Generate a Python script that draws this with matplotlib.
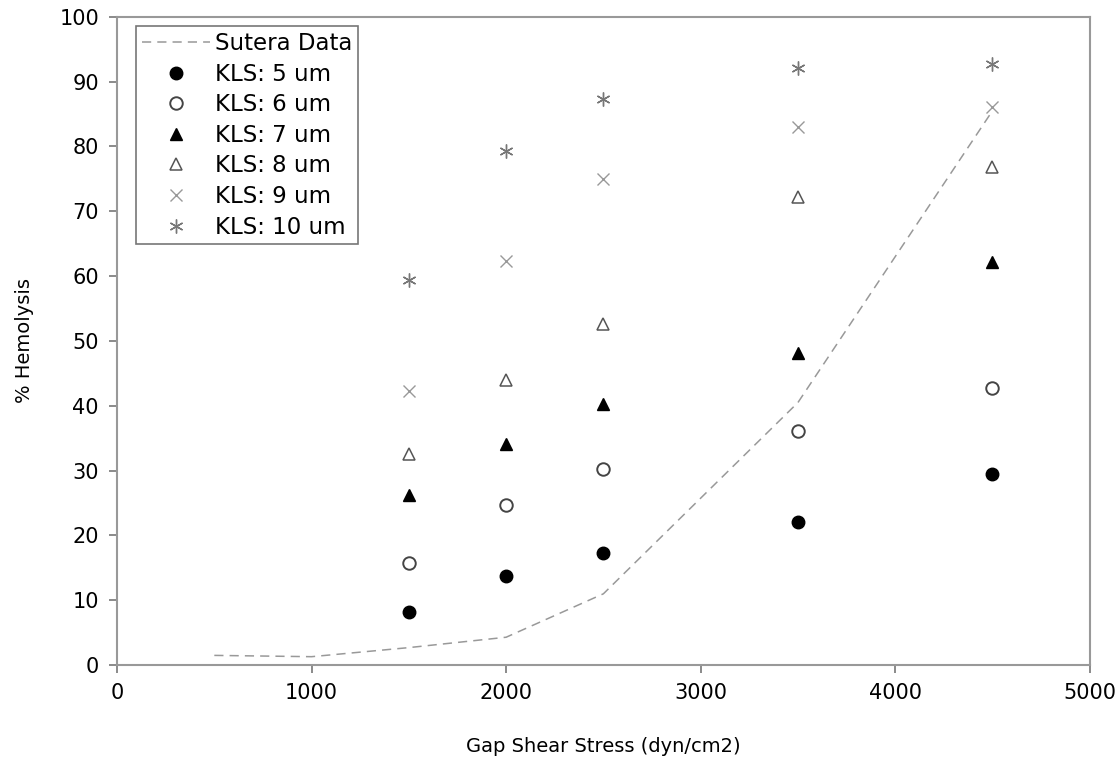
import numpy as np
import matplotlib.pyplot as plt

# Sutera reference curve
sutera_x = [500, 1000, 1500, 2000, 2500, 3500, 4500]
sutera_y = [1.5, 1.3, 2.7, 4.3, 11.0, 40.5, 85.5]

# KLS model results
stress = [1500, 2000, 2500, 3500, 4500]
kls_5 = [8.2, 13.7, 17.3, 22.1, 29.5]
kls_6 = [15.7, 24.7, 30.2, 36.1, 42.7]
kls_7 = [26.2, 34.1, 40.3, 48.1, 62.2]
kls_8 = [32.6, 44.0, 52.6, 72.2, 76.9]
kls_9 = [42.3, 62.3, 75.0, 83.0, 86.1]
kls_10 = [59.4, 79.3, 87.3, 92.1, 92.7]

plt.rcParams['font.family'] = ['DejaVu Sans']

fig = plt.figure(figsize=(11.2, 7.61), dpi=100)
ax = fig.add_axes([0.1045, 0.126, 0.8685, 0.852])

ax.plot(sutera_x, sutera_y, linestyle=(0, (6, 4)), color='#999999', lw=1.1, label='Sutera Data')
ax.plot(stress, kls_5, 'o', ms=9, mfc='black', mec='black', ls='none', label='KLS: 5 um')
ax.plot(stress, kls_6, 'o', ms=9, mfc='white', mec='#444444', mew=1.4, ls='none', label='KLS: 6 um')
ax.plot(stress, kls_7, '^', ms=9, mfc='black', mec='black', ls='none', label='KLS: 7 um')
ax.plot(stress, kls_8, '^', ms=9, mfc='white', mec='#555555', mew=1.1, ls='none', label='KLS: 8 um')
ax.plot(stress, kls_9, 'x', ms=9, color='#999999', mew=1.0, ls='none', label='KLS: 9 um')
ax.plot(stress, kls_10, marker=(6, 2, 0), ms=10, color='#777777', mew=1.0, ls='none', label='KLS: 10 um')

ax.set_xlim(0, 5000)
ax.set_ylim(0, 100)
ax.set_xticks(np.arange(0, 5001, 1000))
ax.set_yticks(np.arange(0, 101, 10))
ax.tick_params(labelsize=15, length=6, width=1.2, color='#777777', pad=7)
ax.set_xlabel('Gap Shear Stress (dyn/cm2)', fontsize=14, labelpad=24)
ax.set_ylabel('% Hemolysis', fontsize=14, labelpad=18)
for s in ax.spines.values():
    s.set_color('#999999')
    s.set_linewidth(1.5)

leg = ax.legend(loc='upper left', bbox_to_anchor=(0.0195, 0.985), borderaxespad=0,
                fontsize=16.5, frameon=True, fancybox=False, edgecolor='#555555',
                handlelength=3.0, handletextpad=0.2, labelspacing=0.33, borderpad=0.25)
leg.get_frame().set_linewidth(1.2)

fig.savefig('out.png', dpi=100)
